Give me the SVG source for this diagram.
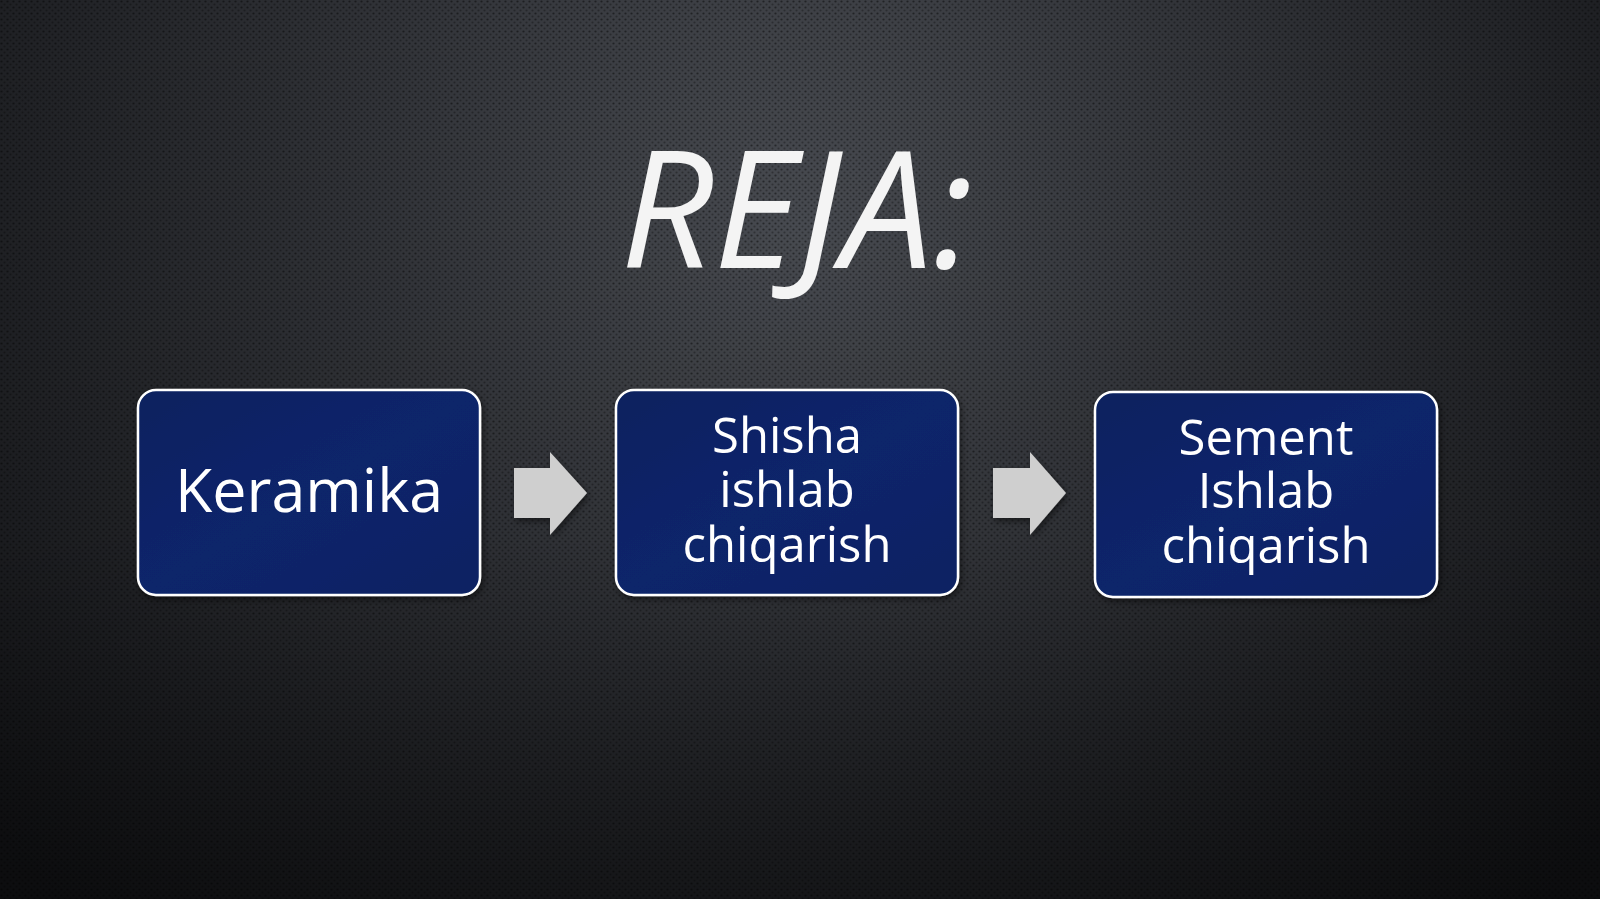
<svg xmlns="http://www.w3.org/2000/svg" width="1600" height="899" viewBox="0 0 1600 899">
<defs>
<radialGradient id="bg" cx="800" cy="230" r="1000" gradientUnits="userSpaceOnUse">
<stop offset="0" stop-color="#4a4d53"/>
<stop offset="0.45" stop-color="#313338"/>
<stop offset="1" stop-color="#16171a"/>
</radialGradient>
<linearGradient id="shade" x1="0" y1="0" x2="0" y2="1">
<stop offset="0" stop-color="#000" stop-opacity="0"/>
<stop offset="0.6" stop-color="#000" stop-opacity="0.1"/>
<stop offset="1" stop-color="#000" stop-opacity="0.45"/>
</linearGradient>
<pattern id="dots" width="6" height="6" patternUnits="userSpaceOnUse">
<circle cx="1.5" cy="1.5" r="1.1" fill="#000" fill-opacity="0.45"/>
<circle cx="4.5" cy="4.5" r="1.1" fill="#000" fill-opacity="0.3"/>
</pattern>
<linearGradient id="boxfill" x1="0" y1="0" x2="1" y2="1">
<stop offset="0" stop-color="#07215f"/>
<stop offset="0.5" stop-color="#0a256b"/>
<stop offset="1" stop-color="#082262"/>
</linearGradient>
<filter id="shadow" x="-10%" y="-10%" width="130%" height="130%">
<feDropShadow dx="2" dy="3" stdDeviation="3" flood-color="#000" flood-opacity="0.5"/>
</filter>
</defs>
<style>
.box{fill:url(#boxfill);stroke:#ffffff;stroke-width:2.5;filter:url(#shadow)}
.lbl{font-family:"Open Sans","Noto Sans","Liberation Sans",sans-serif;fill:#ffffff;text-anchor:middle}
.arrow{fill:#cfcfcf;filter:url(#shadow)}
.title{font-family:"Open Sans","Noto Sans","Liberation Sans",sans-serif;font-style:italic;fill:#f4f4f4;text-anchor:middle}
</style>
<rect width="1600" height="899" fill="url(#bg)"/>
<rect width="1600" height="899" fill="url(#dots)"/>
<rect width="1600" height="899" fill="url(#shade)"/>
<g id="title">
<text class="title" x="797" y="268" font-size="163">REJA:</text>
</g>
<g id="connectors">
<polygon class="arrow" points="514,468 550,468 550,452 587,493 550,535 550,518 514,518"/>
<polygon class="arrow" points="993,468 1030,468 1030,452 1066,493 1030,535 1030,518 993,518"/>
</g>
<g id="node-keramika">
<rect class="box" x="138" y="390" width="342" height="205" rx="18"/>
<text class="lbl" x="309" y="512" font-size="61">Keramika</text>
</g>
<g id="node-shisha">
<rect class="box" x="616" y="390" width="342" height="205" rx="18"/>
<text class="lbl" font-size="49"><tspan x="787" y="453">Shisha</tspan><tspan x="787" y="507">ishlab</tspan><tspan x="787" y="562">chiqarish</tspan></text>
</g>
<g id="node-sement">
<rect class="box" x="1095" y="392" width="342" height="205" rx="18"/>
<text class="lbl" font-size="49"><tspan x="1266" y="455">Sement</tspan><tspan x="1266" y="508">Ishlab</tspan><tspan x="1266" y="563">chiqarish</tspan></text>
</g>
</svg>
